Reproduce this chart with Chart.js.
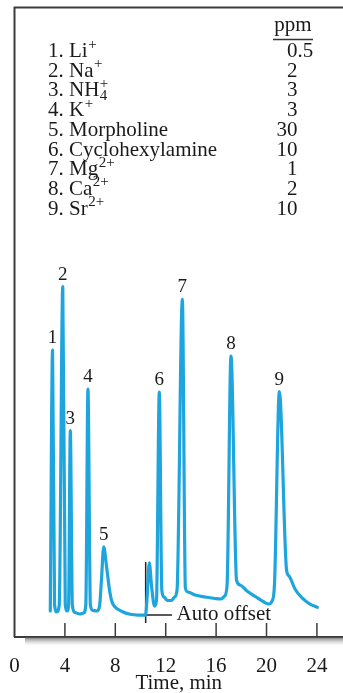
<!DOCTYPE html>
<html><head><meta charset="utf-8">
<script src="https://cdn.jsdelivr.net/npm/chart.js@4.4.1/dist/chart.umd.min.js"></script>
<style>html,body{margin:0;padding:0;background:#fff;overflow:hidden}canvas{display:block}</style>
</head><body>
<canvas id="c" width="343" height="693"></canvas>
<script>
// Chromatogram trace: time (min) and detector response (relative units, 0-100)
const times  = [2.84,3.02,3.18,3.36,3.55,3.83,4.03,4.17,4.29,4.43,4.59,4.80,5.20,5.48,5.66,5.83,6.02,6.23,6.55,6.75,6.90,7.08,7.30,7.54,7.74,7.98,8.53,9.17,9.80,10.40,
                10.52,10.70,10.87,11.11,11.27,11.49,11.69,11.87,12.14,12.46,12.70,12.90,13.32,13.56,13.77,14.33,15.12,15.92,16.39,16.67,16.87,17.18,17.62,17.90,18.45,19.17,19.80,20.20,20.44,20.63,21.02,21.59,21.79,22.26,22.82,23.45,24.03];
const signal = [4.13,45.59,5.08,3.97,5.08,55.65,5.08,4.13,5.08,32.77,5.08,3.89,3.65,3.81,5.08,39.40,5.08,4.21,4.13,4.92,9.05,14.34,11.28,7.47,5.56,4.77,4.05,3.61,3.49,3.49,
                6.20,11.76,8.26,4.92,5.88,38.92,7.47,6.35,5.80,5.80,6.35,7.47,53.65,7.78,7.15,6.67,6.35,6.12,6.04,6.51,8.26,44.64,9.05,8.26,7.31,6.35,5.56,5.24,5.72,8.26,38.97,10.64,9.69,7.63,6.20,5.24,4.72];

// Peak identification
const peakNumbers = ['1','2','3','4','5','6','7','8','9'];
const peakTimes   = [3.02,3.83,4.43,5.83,7.08,11.49,13.32,17.18,21.02];

// Legend table
const compounds   = ['Li','Na','NH','K','Morpholine','Cyclohexylamine','Mg','Ca','Sr'];
const compoundSub = ['','','4','','','','','',''];
const compoundSup = ['+','+','+','+','','','2+','2+','2+'];
const ppm         = ['0.5','2','3','3','30','10','1','2','10'];

// Axis
const xTicks = [0,4,8,12,16,20,24];
const xTitle = 'Time, min';

// Auto offset marker
const offsetTime = 10.41;
const offsetMarkLow = 2.22, offsetMarkHigh = 11.91;
const offsetLeaderEnd = 12.5, offsetLeaderLevel = 3.49;
const offsetText = 'Auto offset';

const SERIF = '"Liberation Serif", "Times New Roman", serif';
const INK = '#1a1a1a';
const FRAME = '#3c3c3c';

const tracePoints = times.map((t,i)=>({x:t,y:signal[i]}));

const decor = {
  id:'decor',
  beforeDatasetsDraw(chart){
    const {ctx, chartArea:a} = chart;
    const xs = chart.scales.x;
    ctx.save();
    // shadow under axis
    const g = ctx.createLinearGradient(0,a.bottom,0,a.bottom+9);
    g.addColorStop(0,'rgba(90,90,90,0.85)');
    g.addColorStop(1,'rgba(210,210,210,0)');
    ctx.fillStyle = g;
    ctx.fillRect(a.left+10.5, a.bottom+0.5, chart.width, 9);
    // frame: left + top
    ctx.strokeStyle = FRAME; ctx.lineWidth = 2;
    ctx.beginPath();
    ctx.moveTo(a.left, a.bottom); ctx.lineTo(a.left, a.top); ctx.lineTo(chart.width, a.top);
    ctx.stroke();
    // inward ticks
    ctx.lineWidth = 1.5;
    xs.ticks.forEach(tk=>{
      if (tk.value === 0) return;
      const px = xs.getPixelForValue(tk.value);
      ctx.beginPath(); ctx.moveTo(px, a.bottom); ctx.lineTo(px, a.bottom-14); ctx.stroke();
    });
    ctx.restore();
  },
  afterDraw(chart){
    const {ctx} = chart;
    const xs = chart.scales.x, ys = chart.scales.y;
    ctx.save();
    ctx.fillStyle = INK;
    // peak labels
    ctx.font = '19px ' + SERIF;
    ctx.textAlign = 'center'; ctx.textBaseline = 'alphabetic';
    peakTimes.forEach((t,i)=>{
      const idx = times.indexOf(t);
      const px = xs.getPixelForValue(t), py = ys.getPixelForValue(signal[idx]);
      ctx.fillText(peakNumbers[i], px, py - 7);
    });
    // auto offset text
    ctx.font = '21px ' + SERIF;
    ctx.textAlign = 'left';
    ctx.fillText(offsetText, xs.getPixelForValue(offsetLeaderEnd) + 4.5, ys.getPixelForValue(offsetLeaderLevel) + 5);
    // legend table
    const left = 48, numRight = 297.5, base0 = 57, step = 19.7;
    ctx.font = '21px ' + SERIF;
    ctx.textAlign = 'center';
    ctx.fillText('ppm', 293, 30.5);
    ctx.strokeStyle = '#333'; ctx.lineWidth = 1.3;
    ctx.beginPath(); ctx.moveTo(273, 39.5); ctx.lineTo(313, 39.5); ctx.stroke();
    compounds.forEach((name,i)=>{
      const y = base0 + i*step;
      ctx.font = '21px ' + SERIF;
      ctx.textAlign = 'left';
      const main = (i+1) + '. ' + name;
      ctx.fillText(main, left, y);
      const x = left + ctx.measureText(main).width + 0.5;
      ctx.font = '15px ' + SERIF;
      if (compoundSub[i]) ctx.fillText(compoundSub[i], x, y + 4);
      if (compoundSup[i]) ctx.fillText(compoundSup[i], x, y - 8.5);
      // ppm value, decimal aligned
      ctx.font = '21px ' + SERIF;
      const parts = ppm[i].split('.');
      ctx.textAlign = 'right';
      ctx.fillText(parts[0], numRight, y);
      if (parts.length > 1) { ctx.textAlign = 'left'; ctx.fillText('.' + parts[1], numRight, y); }
    });
    ctx.restore();
  }
};

new Chart(document.getElementById('c'), {
  type:'line',
  data:{ datasets:[
    { data: tracePoints, borderColor:'#1ea5de', borderWidth:3.2, pointRadius:0, fill:false,
      cubicInterpolationMode:'monotone', borderJoinStyle:'round', borderCapStyle:'round' },
    { data:[{x:offsetTime,y:offsetMarkLow},{x:offsetTime,y:offsetMarkHigh}], borderColor:'#222', borderWidth:1.5, pointRadius:0, tension:0 },
    { data:[{x:offsetTime,y:offsetLeaderLevel},{x:offsetLeaderEnd,y:offsetLeaderLevel}], borderColor:'#222', borderWidth:1.5, pointRadius:0, tension:0 }
  ]},
  options:{
    responsive:false, animation:false, devicePixelRatio:1,
    layout:{ padding:{ left:14.5, top:7.5, right:0, bottom:0 } },
    plugins:{ legend:{display:false}, tooltip:{enabled:false} },
    scales:{
      x:{ type:'linear', min:0, max:26.07, position:'bottom',
        afterBuildTicks(s){ s.ticks = xTicks.map(v=>({value:v})); },
        afterFit(s){ s.height = 56; s.paddingLeft = 0; s.paddingRight = 0; },
        ticks:{ font:{family:SERIF, size:21}, color:INK, padding:17, maxRotation:0, includeBounds:false },
        grid:{ drawOnChartArea:false, drawTicks:false },
        border:{ display:true, color:FRAME, width:2 },
        title:{ display:true, text:xTitle, font:{family:SERIF, size:21, lineHeight:1}, color:INK, padding:{top:0,bottom:-1} }
      },
      y:{ display:false, min:0, max:100 }
    }
  },
  plugins:[decor]
});
</script>
</body></html>
